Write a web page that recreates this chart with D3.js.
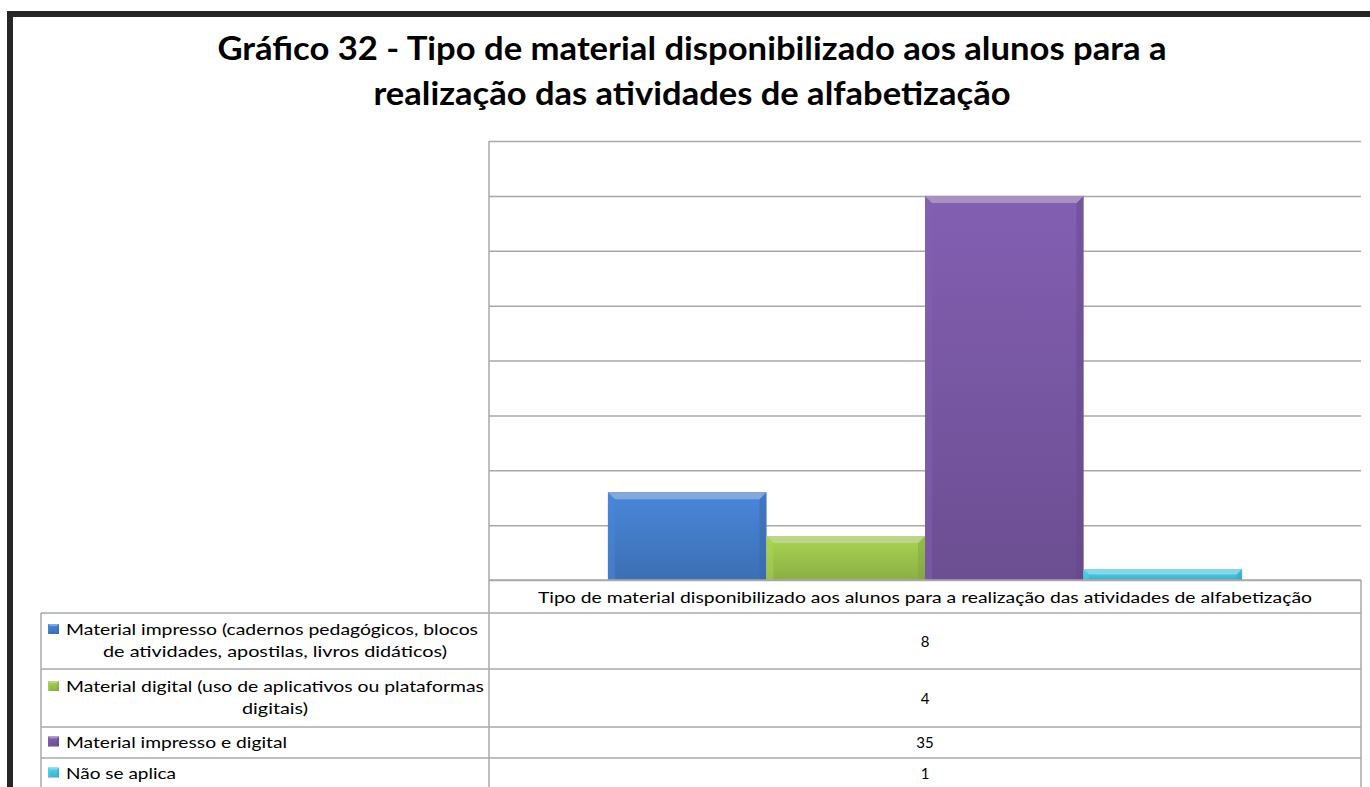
<!DOCTYPE html>
<html>
<head>
<meta charset="utf-8">
<script src="https://cdn.jsdelivr.net/npm/d3@7"></script>
<style>
  body { margin: 0; background: white; }
  text { font-family: Lato, "Open Sans", sans-serif; fill: #000; }
</style>
</head>
<body>
<script>
// chart data
var titleLines = ["Gráfico 32 - Tipo de material disponibilizado aos alunos para a",
  "realização das atividades de alfabetização"];
var category = "Tipo de material disponibilizado aos alunos para a realização das atividades de alfabetização";
var seriesNames = [
  ["Material impresso (cadernos pedagógicos, blocos", "de atividades, apostilas, livros didáticos)"],
  ["Material digital (uso de aplicativos ou plataformas", "digitais)"],
  ["Material impresso e digital"],
  ["Não se aplica"]
];
var seriesValues = [8, 4, 35, 1];
var seriesColors = ["#4279c4", "#98bf4a", "#7655a0", "#45c0da"];
var yTicks = [0, 5, 10, 15, 20, 25, 30, 35, 40];

// layout
var width = 1370,
  height = 787;
var plot = { left: 489, right: 1361, top: 141, bottom: 580 };
var tableLeft = 41;
var headerBottom = 613;
var rowHeights = [56, 58, 31, 31];
var labelWidths = [[412, 344], [418, 66], [221], [110]];
var gridColor = "#a8a8a8";

var svg = d3.select('body')
  .append('svg')
  .attr('width', width)
  .attr('height', height)
  .style('background', 'white');

var defs = svg.append('defs');
seriesColors.forEach(function(c, i) {
  var grad = defs.append('linearGradient')
    .attr('id', 'grad' + i)
    .attr('x1', 0).attr('y1', 0).attr('x2', 0).attr('y2', 1);
  grad.append('stop').attr('offset', '0%').attr('stop-color', d3.color(c).brighter(0.3));
  grad.append('stop').attr('offset', '100%').attr('stop-color', d3.color(c).darker(0.25));
});

// outer frame
svg.append('rect')
  .attr('x', 10).attr('y', 14)
  .attr('width', width + 20).attr('height', height + 20)
  .attr('fill', 'none')
  .attr('stroke', '#262626')
  .attr('stroke-width', 6);

// title
svg.selectAll('.title')
  .data(titleLines)
  .enter()
  .append('text')
  .attr('class', 'title')
  .attr('x', 692)
  .attr('y', function(d, i) { return 60 + i * 45; })
  .attr('text-anchor', 'middle')
  .attr('textLength', function(d, i) { return i == 0 ? 949 : 637; })
  .attr('lengthAdjust', 'spacingAndGlyphs')
  .style('font-size', '32px')
  .style('font-weight', 'bold')
  .text(function(d) { return d; });

// scales
var yScale = d3.scaleLinear()
  .domain([0, 40])
  .range([plot.bottom, plot.top]);

var xScale = d3.scaleBand()
  .domain(d3.range(seriesValues.length))
  .range([plot.left, plot.right])
  .paddingInner(0)
  .paddingOuter(0.75);

// gridlines
var grid = svg.append('g')
  .attr('transform', `translate(${plot.left},0)`)
  .call(d3.axisLeft(yScale)
    .tickValues(yTicks)
    .tickSize(-(plot.right - plot.left))
    .tickFormat(''));
grid.select('.domain').remove();
grid.selectAll('line')
  .attr('stroke', gridColor)
  .attr('stroke-width', 1.5);

// bars with bevel
function bevelBar(g, x0, y0, x1, y1, i, b) {
  var c = d3.color(seriesColors[i]);
  g.append('rect')
    .attr('x', x0).attr('y', y0)
    .attr('width', x1 - x0).attr('height', y1 - y0)
    .attr('fill', 'url(#grad' + i + ')');
  // left side
  g.append('polygon')
    .attr('points', [[x0, y0], [x0 + b, y0 + b], [x0 + b, y1], [x0, y1]].join(' '))
    .attr('fill', c.brighter(0.3)).attr('opacity', 0.5);
  // right side
  g.append('polygon')
    .attr('points', [[x1, y0], [x1 - b, y0 + b], [x1 - b, y1], [x1, y1]].join(' '))
    .attr('fill', c.darker(0.5)).attr('opacity', 0.45);
  // top
  g.append('polygon')
    .attr('points', [[x0, y0], [x1, y0], [x1 - b, y0 + b], [x0 + b, y0 + b]].join(' '))
    .attr('fill', d3.interpolateRgb(c, '#ffffff')(0.35));
}

var bars = svg.append('g');
seriesValues.forEach(function(v, i) {
  var x0 = xScale(i),
    x1 = xScale(i) + xScale.bandwidth(),
    y0 = yScale(v),
    y1 = yScale(0);
  bevelBar(bars, x0, y0, x1, y1, i, Math.min(7, (y1 - y0) / 2));
});

// data table lines
var rowTops = [];
var acc = headerBottom;
rowHeights.forEach(function(h) { rowTops.push(acc); acc += h; });

var lines = svg.append('g')
  .attr('stroke', gridColor)
  .attr('stroke-width', 1.5);
// axis and table verticals
lines.append('line').attr('x1', plot.left).attr('x2', plot.left).attr('y1', plot.top).attr('y2', height);
lines.append('line').attr('x1', plot.right).attr('x2', plot.right).attr('y1', plot.bottom).attr('y2', height);
lines.append('line').attr('x1', tableLeft).attr('x2', tableLeft).attr('y1', headerBottom).attr('y2', height);
lines.append('line').attr('x1', plot.left).attr('x2', plot.right).attr('y1', plot.bottom).attr('y2', plot.bottom);
lines.selectAll('.rowline')
  .data(rowTops)
  .enter()
  .append('line')
  .attr('x1', tableLeft).attr('x2', plot.right)
  .attr('y1', function(d) { return d; })
  .attr('y2', function(d) { return d; });

// header
svg.append('text')
  .attr('x', (plot.left + plot.right) / 2)
  .attr('y', 603)
  .attr('text-anchor', 'middle')
  .attr('textLength', 774)
  .attr('lengthAdjust', 'spacingAndGlyphs')
  .style('font-size', '15px')
  .text(category);

// values
svg.selectAll('.val')
  .data(seriesValues)
  .enter()
  .append('text')
  .attr('class', 'val')
  .attr('x', (plot.left + plot.right) / 2)
  .attr('y', function(d, i) { return rowTops[i] + rowHeights[i] / 2 + 5.5; })
  .attr('text-anchor', 'middle')
  .style('font-size', '15px')
  .text(function(d) { return d; });

// legend keys + labels
seriesNames.forEach(function(names, i) {
  var first = rowTops[i] + (rowHeights[i] - names.length * 22) / 2 + 16;
  var kg = svg.append('g');
  bevelBar(kg, 48, first - 11, 59, first - 1, i, 2);
  names.forEach(function(t, j) {
    var txt = svg.append('text')
      .attr('y', first + j * 22)
      .attr('textLength', labelWidths[i][j])
      .attr('lengthAdjust', 'spacingAndGlyphs')
      .style('font-size', '15px')
      .text(t);
    if (j == 0) {
      txt.attr('x', 66);
    } else {
      txt.attr('x', 275).attr('text-anchor', 'middle');
    }
  });
});
</script>
</body>
</html>
